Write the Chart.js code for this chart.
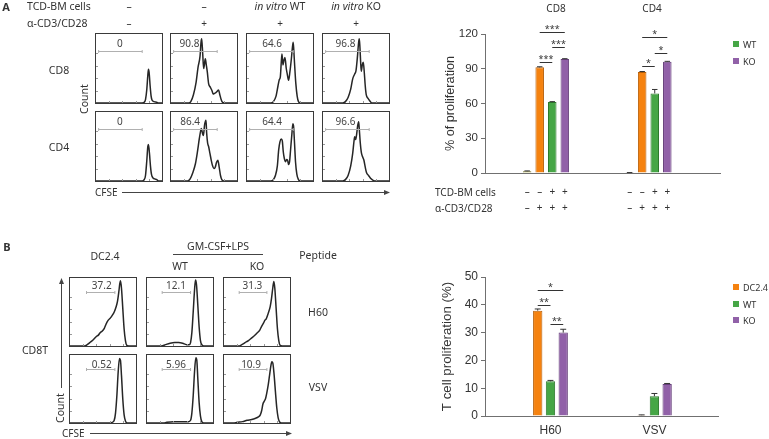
<!DOCTYPE html>
<html>
<head>
<meta charset="utf-8">
<script src="https://cdn.jsdelivr.net/npm/chart.js@4"></script>
<style>
  body { margin: 0; width: 769px; height: 439px; position: relative; background: #fff; overflow: hidden;
         font-family: "Noto Sans", sans-serif; color: #333; }
  .t { position: absolute; font-size: 10px; line-height: 1; white-space: nowrap; transform: translate(-50%, -50%); }
  .l { transform: translate(0, -50%); }
  .box { position: absolute; border: 1px solid #3a3a3a; box-sizing: border-box; }
  .box canvas { display: block; }
  .sw { position: absolute; width: 6px; height: 6px; }
  svg { position: absolute; left: 0; top: 0; }
</style>
</head>
<body>
<canvas id="barA" width="369" height="220" style="position:absolute;left:400px;top:0"></canvas>
<canvas id="barB" width="369" height="219" style="position:absolute;left:400px;top:220px"></canvas>
<svg width="769" height="439">
  <g stroke="#444" stroke-width="1" fill="#444">
    <line x1="122" y1="192.5" x2="386" y2="192.5"/><path d="M390 192.5 L384 190 L384 195 Z" stroke="none"/>
    <line x1="90" y1="433.5" x2="288" y2="433.5"/><path d="M292 433.5 L286 431 L286 436 Z" stroke="none"/>
    <line x1="61.5" y1="282" x2="61.5" y2="388"/><path d="M61.5 278 L59 284 L64 284 Z" stroke="none"/>
    <line x1="173" y1="254.5" x2="263" y2="254.5"/>
  </g>
</svg>
<script>
// ---- panel A bar data (% of proliferation) ----
const groupsA = ['CD8', 'CD4'];
const ctrlA = [1.5, 0.3];
const stimA = [91.2, 87.1];
const wtA = [61.2, 68.7];
const koA = [98.4, 96.0];
const ctrlAErr = [0.3, 0.1];
const stimAErr = [0.5, 0.5];
const wtAErr = [0.4, 3.4];
const koAErr = [0.3, 0.4];
const tcdSigns = ['–', '–', '+', '+'];
const cd3Signs = ['–', '+', '+', '+'];
const ticksA = [0, 30, 60, 90, 120];
// [group, from series, to series, height, stars]
const sigA = [[0, 1, 3, 121.7, '***'], [0, 2, 3, 108.7, '***'], [0, 1, 2, 95.8, '***'],
              [1, 1, 3, 117.6, '*'], [1, 2, 3, 104.0, '*'], [1, 1, 2, 92.3, '*']];

// ---- panel B bar data (T cell proliferation %) ----
const peptidesB = ['H60', 'VSV'];
const dcB = [37.9, 0.3];
const wtB = [12.5, 7.1];
const koB = [30.0, 11.5];
const dcBErr = [0.6, 0.1];
const wtBErr = [0.3, 1.0];
const koBErr = [1.2, 0.2];
const ticksB = [0, 10, 20, 30, 40, 50];
const sigB = [[0, 0, 2, 45.4, '*'], [0, 0, 1, 40.0, '**'], [0, 1, 2, 33.2, '**']];

// ---- CFSE histograms: [CFSE position %, count % of box] ----
const hCD8ctrl = [[0,0],[70,0],[73,1],[75,5],[77,20],[78.5,40],[79.5,49],[80.5,44],[82,25],[83.5,10],[85,4],[88,2],[92,1],[95,0],[100,0]];
const hCD8stim = [[0,0],[27,0],[30,2],[34,12],[38,30],[41,52],[44,68],[45.5,88],[46.5,93],[48,72],[49.5,50],[50.5,55],[52,64],[53.5,55],[55,45],[57,28],[59.5,23],[62,18],[64,13],[66,14],[68,15],[70,17],[72,19],[74,12],[76,5],[78,1],[81,0],[100,0]];
const hCD8wt = [[0,0],[36,0],[40,2],[44,10],[47,25],[49,34],[50.5,38],[52,60],[53,71],[54.5,55],[56,62],[57.5,66],[59.5,50],[61,42],[63,33],[65,45],[67,62],[69,82],[70,88],[71,75],[72,58],[74,28],[76,10],[78,2],[81,0],[100,0]];
const hCD8ko = [[0,0],[30,0],[34,2],[38,8],[42,20],[45,35],[48,42],[50,47],[52,65],[54,88],[55,93],[56,80],[57,60],[58,46],[59.5,55],[61,59],[62.5,45],[64,25],[65.5,12],[68,7],[71,3],[74,0],[100,0]];
const hCD4ctrl = [[0,0],[70,0],[73,2],[75,8],[77,30],[78.5,50],[79.5,53],[81,40],[82.5,22],[84,10],[86,5],[89,3],[92,2],[95,0],[100,0]];
const hCD4stim = [[0,0],[25,0],[29,3],[33,12],[37,25],[40,42],[43,62],[45,73],[46,76],[48,68],[49,66],[51,82],[53,88],[54,70],[55.5,55],[57,50],[59,40],[61,30],[63,22],[65,18],[67,20],[69,27],[71,30],[73,20],[75,8],[77,2],[80,0],[100,0]];
const hCD4wt = [[0,0],[36,0],[40,2],[43,8],[46,22],[48,45],[50,57],[52,61],[53.5,58],[55,42],[56.5,33],[58.5,28],[60,31],[61.5,30],[63,24],[64.5,28],[66,45],[68,68],[69.5,83],[70.5,80],[72,55],[73.5,28],[75.5,10],[78,2],[81,0],[100,0]];
const hCD4ko = [[0,0],[30,0],[34,2],[38,8],[42,22],[45,40],[47,58],[48,64],[49.5,60],[51,68],[52.5,80],[54,86],[55,75],[56.5,55],[58,42],[60,35],[62,30],[64,20],[66,12],[69,8],[72,4],[76,1],[80,0],[100,0]];
const hH60dc = [[0,0],[22,0],[26,2],[30,5],[34,8],[37,11],[40,14],[43,16],[46,20],[49,22],[52,26],[55,33],[58,38],[61,41],[64,45],[67,50],[70,58],[72,66],[74,80],[75.5,92],[76.5,96],[78,85],[80,55],[82,25],[84,8],[86,1],[89,0],[100,0]];
const hH60wt = [[0,0],[22,0],[28,2],[35,4],[42,5],[48,5],[54,4],[60,2],[64,2],[66,5],[68,20],[70,50],[72,82],[73.5,97],[75,90],[77,60],[79,28],[81,8],[83,2],[86,0],[100,0]];
const hH60ko = [[0,0],[22,0],[27,2],[32,5],[37,8],[42,12],[46,15],[50,19],[54,23],[57,29],[60,34],[62,38],[64,40],[67,48],[70,58],[72,70],[74,86],[75.5,95],[77,85],[79,55],[81,25],[83,8],[85,1],[88,0],[100,0]];
const hVSVdc = [[0,0],[60,0],[64,1],[67,4],[69,15],[71,40],[73,75],[75,95],[76.5,92],[78,70],[80,35],[82,12],[84,3],[87,0],[100,0]];
const hVSVwt = [[0,0],[25,0],[30,1],[40,2],[50,2],[58,2],[63,2],[66,4],[68,15],[70,40],[72,75],[74,96],[75.5,92],[77,65],[79,30],[81,10],[83,2],[86,0],[100,0]];
const hVSVko = [[0,0],[14,0],[20,1],[28,2],[35,4],[42,5],[48,7],[52,9],[55,12],[57,18],[59,28],[61,32],[63,36],[65,45],[67,56],[69,70],[71,84],[72.5,90],[74,88],[76,70],[78,45],[80,22],[82,8],[84,2],[87,0],[100,0]];
const gateA = ['0', '90.8', '64.6', '96.8', '0', '86.4', '64.4', '96.6'];
const gateB = ['37.2', '12.1', '31.3', '0.52', '5.96', '10.9'];

// ---- text helpers ----
function txt(s, x, y, o = {}) {
  const d = document.createElement('div');
  d.className = 't' + (o.left ? ' l' : '');
  d.innerHTML = s;
  d.style.left = x + 'px';
  d.style.top = y + 'px';
  if (o.size) d.style.fontSize = o.size + 'px';
  if (o.bold) d.style.fontWeight = 'bold';
  if (o.rot) d.style.transform = 'translate(-50%,-50%) rotate(-90deg)';
  document.body.appendChild(d);
}
function swatch(color, x, y, label) {
  const s = document.createElement('div');
  s.className = 'sw';
  s.style.left = x + 'px'; s.style.top = (y - 3) + 'px'; s.style.background = color;
  document.body.appendChild(s);
  txt(label, x + 10, y, { left: true, size: 9 });
}

// panel A labels
txt('A', 6, 6, { bold: true, size: 11 });
txt('TCD-BM cells', 27, 6, { left: true, size: 10.5 });
txt('α-CD3/CD28', 27, 23, { left: true, size: 10.5 });
['–', '–', '<i>in vitro</i> WT', '<i>in vitro</i> KO'].forEach((s, i) => txt(s, [129, 204, 280, 356][i], 6, { size: 10.5 }));
['–', '+', '+', '+'].forEach((s, i) => txt(s, [129, 204, 280, 356][i], 23));
txt('CD8', 59, 70, { size: 10.5 });
txt('CD4', 59, 147, { size: 10.5 });
txt('Count', 83.5, 98.5, { rot: true, size: 10.5 });
txt('CFSE', 95, 192, { left: true });
txt('CD8', 556, 8);
txt('CD4', 652, 8);
txt('TCD-BM cells', 435, 192, { left: true });
txt('α-CD3/CD28', 435, 208, { left: true });

// panel B labels
txt('B', 7, 246, { bold: true, size: 11 });
txt('DC2.4', 105, 256, { size: 10.5 });
txt('GM-CSF+LPS', 218, 246, { size: 10.5 });
txt('WT', 180, 266, { size: 10.5 });
txt('KO', 257, 266, { size: 10.5 });
txt('Peptide', 318, 255, { size: 10.5 });
txt('H60', 318, 312, { size: 10.5 });
txt('VSV', 318, 387, { size: 10.5 });
txt('CD8T', 35, 350, { size: 10.5 });
txt('Count', 60, 408, { rot: true, size: 10.5 });
txt('CFSE', 62, 433, { left: true });

const ORANGE = '#f5820f', GREEN = '#46a646', PURPLE = '#9161a8';
swatch(GREEN, 733, 43.5, 'WT');
swatch(PURPLE, 733, 60.5, 'KO');
swatch(ORANGE, 733, 287, 'DC2.4');
swatch(GREEN, 733, 303.5, 'WT');
swatch(PURPLE, 733, 320, 'KO');

// ---- histogram plugin: frame ticks + gate ----
const gatePlugin = {
  id: 'gate',
  afterDatasetsDraw(chart, args, o) {
    const { ctx, chartArea: a, scales: { x, y } } = chart;
    ctx.save();
    ctx.strokeStyle = '#999';
    ctx.lineWidth = 1;
    ctx.beginPath();
    for (let k = 1; k < 5; k++) {
      const px = Math.round(x.getPixelForValue(k * 20)) + 0.5;
      ctx.moveTo(px, a.bottom); ctx.lineTo(px, a.bottom - 2);
      const py = Math.round(y.getPixelForValue(k * 18)) + 0.5;
      ctx.moveTo(a.left, py); ctx.lineTo(a.left + 2, py);
    }
    ctx.stroke();
    const x1 = x.getPixelForValue(o.from), x2 = x.getPixelForValue(o.to);
    const gy = Math.round(y.getPixelForValue(o.gy)) + 0.5;
    ctx.strokeStyle = '#b0b0b0';
    ctx.beginPath();
    ctx.moveTo(x1, gy); ctx.lineTo(x2, gy);
    ctx.moveTo(x1, gy - 1.5); ctx.lineTo(x1, gy + 1.5);
    ctx.moveTo(x2, gy - 1.5); ctx.lineTo(x2, gy + 1.5);
    ctx.stroke();
    ctx.fillStyle = '#444';
    ctx.font = o.size + 'px "Noto Sans"';
    ctx.textAlign = 'center';
    ctx.textBaseline = 'middle';
    ctx.fillText(o.text, x.getPixelForValue(o.lx), y.getPixelForValue(o.ly));
    ctx.restore();
  }
};

function hist(pts, left, top, w, h, gate) {
  const box = document.createElement('div');
  box.className = 'box';
  box.style.left = left + 'px'; box.style.top = top + 'px';
  box.style.width = w + 'px'; box.style.height = h + 'px';
  const c = document.createElement('canvas');
  c.width = w - 2; c.height = h - 2;
  box.appendChild(c);
  document.body.appendChild(box);
  new Chart(c, {
    type: 'line',
    data: { datasets: [{ data: pts.map(p => ({ x: p[0], y: p[1] })), borderColor: '#262626', borderWidth: 1.5,
                         pointRadius: 0, fill: false, cubicInterpolationMode: 'monotone', clip: 2 }] },
    options: {
      responsive: false, animation: false, events: [],
      layout: { padding: 0 },
      plugins: { legend: { display: false }, tooltip: { enabled: false }, gate },
      scales: { x: { type: 'linear', min: 0, max: 100, display: false },
                y: { min: 0, max: 100, display: false } }
    },
    plugins: [gatePlugin]
  });
}

const histA = [hCD8ctrl, hCD8stim, hCD8wt, hCD8ko, hCD4ctrl, hCD4stim, hCD4wt, hCD4ko];
const colsA = [95, 170, 246, 322], rowsA = [33, 111];
const labelXA = [36, 28, 38, 34, 36, 29, 38, 34];
histA.forEach((pts, i) => {
  hist(pts, colsA[i % 4], rowsA[Math.floor(i / 4)], 68, 71,
       { from: 4, to: 70, gy: 76, lx: labelXA[i], ly: 86, text: gateA[i], size: 10 });
});

const histB = [hH60dc, hH60wt, hH60ko, hVSVdc, hVSVwt, hVSVko];
const colsB = [69, 146, 223], rowsB = [277, 354];
const gFromB = [25, 23, 23], gToB = [68, 66, 65];
const labelXB = [48, 44, 43, 48, 44, 41];
histB.forEach((pts, i) => {
  const r = Math.floor(i / 3), c = i % 3;
  hist(pts, colsB[c], rowsB[r], 68, 70,
       { from: gFromB[c], to: gToB[c], gy: r ? 79 : 80, lx: labelXB[i], ly: r ? 85 : 88, text: gateB[i], size: 10 });
});

// ---- bar chart plugin: error bars, significance lines, sign rows ----
const annotPlugin = {
  id: 'annot',
  afterDatasetsDraw(chart, args, o) {
    const { ctx, scales: { y } } = chart;
    ctx.save();
    ctx.lineWidth = 1;
    ctx.strokeStyle = '#333';
    chart.data.datasets.forEach((ds, i) => {
      chart.getDatasetMeta(i).data.forEach((bar, j) => {
        const yt = y.getPixelForValue(ds.data[j].y + ds.err[j]);
        ctx.beginPath();
        ctx.moveTo(bar.x, bar.y); ctx.lineTo(bar.x, yt);
        ctx.moveTo(bar.x - bar.width * 0.32, yt); ctx.lineTo(bar.x + bar.width * 0.32, yt);
        ctx.stroke();
      });
    });
    ctx.fillStyle = '#333';
    ctx.textAlign = 'center';
    ctx.font = '9px "Noto Sans"';
    ctx.textBaseline = 'alphabetic';
    o.sig.forEach(([g, a, b, h, s]) => {
      const x1 = chart.getDatasetMeta(a).data[g].x, x2 = chart.getDatasetMeta(b).data[g].x;
      const py = Math.round(y.getPixelForValue(h)) + 0.5;
      ctx.beginPath(); ctx.moveTo(x1, py); ctx.lineTo(x2, py); ctx.stroke();
      ctx.fillText(s, (x1 + x2) / 2, py - 1);
    });
    ctx.font = '10px "Noto Sans"';
    ctx.textBaseline = 'middle';
    (o.rows || []).forEach(row => {
      chart.data.datasets.forEach((ds, i) => {
        chart.getDatasetMeta(i).data.forEach(bar => {
          ctx.fillText(row.signs[i], bar.x, chart.chartArea.bottom + row.dy);
        });
      });
    });
    ctx.restore();
  }
};

function series(vals) { return vals.map((v, i) => ({ x: i + 1, y: v })); }
function barSet(label, vals, err, fill, border, cat, bar) {
  return { label, data: series(vals), err, backgroundColor: fill, borderColor: border, borderWidth: 1,
           categoryPercentage: cat, barPercentage: bar };
}

function barOptions(o) {
  const tickFont = { family: 'Liberation Sans', size: o.tickSize };
  return {
    responsive: false, animation: false, events: [],
    layout: { padding: o.padding },
    plugins: { legend: { display: false }, tooltip: { enabled: false }, annot: o.annot },
    scales: {
      x: {
        type: 'linear', min: o.xmin, max: o.xmax, offset: false,
        afterBuildTicks: s => { s.ticks = o.cats.map((c, i) => ({ value: i + 1 })); },
        afterFit: s => { s.height = o.xh; },
        ticks: { display: o.showCats, callback: v => o.cats[v - 1], font: tickFont, color: '#333', padding: 7 },
        grid: { display: false, drawTicks: false },
        border: { color: '#707070' }
      },
      y: {
        min: 0, max: o.ymax,
        afterBuildTicks: s => { s.ticks = o.ticks.map(v => ({ value: v })); },
        afterFit: s => { s.width = 85; },
        ticks: { font: tickFont, color: '#333', padding: 3 },
        grid: { drawOnChartArea: false, tickLength: 4, color: '#707070' },
        border: { color: '#707070' },
        title: { display: true, text: o.title, color: '#333', font: { family: 'Liberation Sans', size: o.titleSize },
                 padding: { top: o.titlePad, bottom: 0 } }
      }
    }
  };
}

new Chart(document.getElementById('barA'), {
  type: 'bar',
  data: { datasets: [
    barSet('', ctrlA, ctrlAErr, ['#b4b038', '#3a3a3a'], ['#6d6a1c', '#222'], 0.49, 0.68),
    barSet('', stimA, stimAErr, ORANGE, '#b85f08', 0.49, 0.68),
    barSet('WT', wtA, wtAErr, GREEN, '#2d7a2d', 0.49, 0.68),
    barSet('KO', koA, koAErr, PURPLE, '#66407a', 0.49, 0.68)
  ] },
  options: barOptions({ padding: { top: 34, right: 49, left: 0, bottom: 0 }, xmin: 0.405, xmax: 2.698, xh: 47,
                        cats: groupsA, showCats: false, ymax: 120, ticks: ticksA, tickSize: 11.5,
                        title: '% of proliferation', titleSize: 12.7, titlePad: 42.4,
                        annot: { sig: sigA, rows: [{ dy: 19, signs: tcdSigns }, { dy: 35, signs: cd3Signs }] } }),
  plugins: [annotPlugin]
});

new Chart(document.getElementById('barB'), {
  type: 'bar',
  data: { datasets: [
    barSet('DC2.4', dcB, dcBErr, ORANGE, '#b85f08', 0.368, 0.73),
    barSet('WT', wtB, wtBErr, GREEN, '#2d7a2d', 0.368, 0.73),
    barSet('KO', koB, koBErr, PURPLE, '#66407a', 0.368, 0.73)
  ] },
  options: barOptions({ padding: { top: 57, right: 51, left: 0, bottom: 0 }, xmin: 0.37, xmax: 2.612, xh: 23,
                        cats: peptidesB, showCats: true, ymax: 50, ticks: ticksB, tickSize: 12,
                        title: 'T cell proliferation (%)', titleSize: 13.3, titlePad: 39,
                        annot: { sig: sigB } }),
  plugins: [annotPlugin]
});
</script>
</body>
</html>
